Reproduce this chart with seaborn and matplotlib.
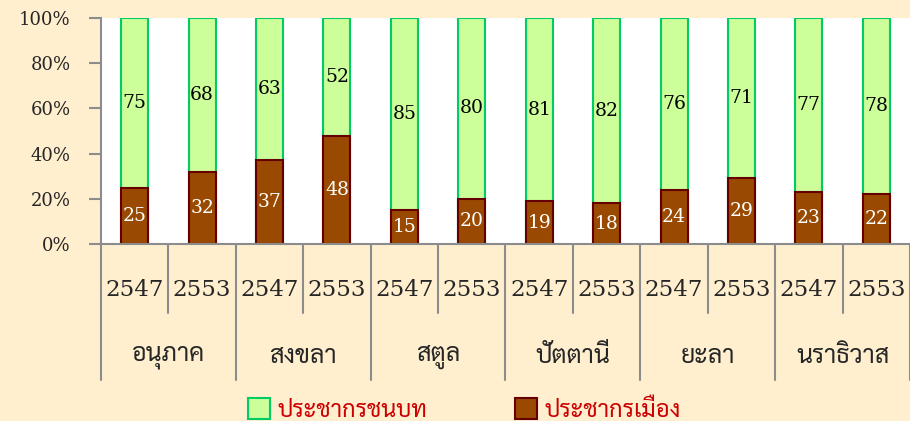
import matplotlib
matplotlib.use("Agg")
import matplotlib.pyplot as plt
from matplotlib import font_manager
from matplotlib.patches import Patch
import matplotlib.transforms as mtransforms
import seaborn as sns
import pandas as pd
import numpy as np

# ---------------- data ----------------
provinces = ["อนุภาค", "สงขลา", "สตูล", "ปัตตานี", "ยะลา", "นราธิวาส"]
years = ["2547", "2553"]
rural = [75, 68, 63, 52, 85, 80, 81, 82, 76, 71, 77, 78]   # ประชากรชนบท
urban = [25, 32, 37, 48, 15, 20, 19, 18, 24, 29, 23, 22]   # ประชากรเมือง
legend_labels = ["ประชากรชนบท", "ประชากรเมือง"]
yticks = [0, 20, 40, 60, 80, 100]

# ---------------- fonts ----------------
thai_family = "DejaVu Sans"
paths = font_manager.findSystemFonts()
for key in ["Sarabun-Regular", "NotoSansThai-Regular", "IBMPlexSansThaiLooped-Regular"]:
    cand = [p for p in paths if key in p]
    if cand:
        font_manager.fontManager.addfont(cand[0])
        thai_family = font_manager.FontProperties(fname=cand[0]).get_name()
        break
num_family = "DejaVu Serif"

sns.set_theme(style="white")
plt.rcParams["font.family"] = [num_family, thai_family]

BG = "#FFEFCF"
GREEN = "#CCFF99"
GREEN_E = "#00CC66"
BROWN = "#994A00"
BROWN_E = "#660000"
GRAY = "#8C8C8C"

labels = [f"{p}|{y}" for p in provinces for y in years]
df = pd.DataFrame({"cat": labels, "rural": rural, "urban": urban})
df["total"] = df["rural"] + df["urban"]

W, H = 910, 421
fig = plt.figure(figsize=(W / 100, H / 100), dpi=100, facecolor=BG)
ax = fig.add_axes([101 / W, 1 - 244 / H, 1 - 101 / W, (244 - 18) / H])
ax.set_facecolor("white")

sns.barplot(data=df, x="cat", y="total", color=GREEN, edgecolor=GREEN_E,
            linewidth=1.5, width=0.4, saturation=1, ax=ax)
sns.barplot(data=df, x="cat", y="urban", color=BROWN, edgecolor=BROWN_E,
            linewidth=1.5, width=0.4, saturation=1, ax=ax)

ax.set_xlim(-0.5, len(labels) - 0.5)
ax.set_ylim(0, 100)
ax.set_yticks(yticks)
ax.set_yticklabels([f"{v}%" for v in yticks], fontsize=13, family=num_family)
ax.tick_params(axis="y", direction="out", length=9, width=1.5, color=GRAY,
               pad=13, left=True)
ax.set_xticks([])
ax.set_xlabel("")
ax.set_ylabel("")
for s in ["top", "right"]:
    ax.spines[s].set_visible(False)
for s in ["left", "bottom"]:
    ax.spines[s].set_color(GRAY)
    ax.spines[s].set_linewidth(1.5)

# value labels
for i, (r, u) in enumerate(zip(rural, urban)):
    ax.text(i, u + r / 2, str(r), ha="center", va="center", fontsize=13.5,
            color="black", family=num_family)
    ax.text(i, u / 2, str(u), ha="center", va="center", fontsize=13.5,
            color="white", family=num_family)

# multi-level category axis
trans = mtransforms.blended_transform_factory(ax.transData, ax.transAxes)
ah = 226.0
def yfrac(py):
    return (244 - py) / ah

n = len(labels)
for k in range(n + 1):
    x = k - 0.5
    long = (k % 2 == 0)
    ax.plot([x, x], [0, yfrac(380 if long else 313)], color=GRAY, lw=1.5,
            transform=trans, clip_on=False)
for i, lab in enumerate(labels):
    ax.text(i, yfrac(290), lab.split("|")[1], ha="center", va="center",
            fontsize=16.5, transform=trans, family=num_family)
for j, p in enumerate(provinces):
    ax.text(2 * j + 0.5, yfrac(356), p, ha="center", va="center",
            fontsize=18, transform=trans, family=[thai_family, num_family])

handles = [Patch(facecolor=GREEN, edgecolor=GREEN_E, linewidth=1.5),
           Patch(facecolor=BROWN, edgecolor=BROWN_E, linewidth=1.5)]
leg = fig.legend(handles, legend_labels, loc="center left",
                 bbox_to_anchor=(248 / W, 1 - 410 / H), ncol=2, frameon=False,
                 prop={"family": thai_family, "size": 17},
                 handlelength=0.95, handleheight=0.95, handletextpad=0.3,
                 columnspacing=3.7, borderpad=0, borderaxespad=0)
for t in leg.get_texts():
    t.set_color("#CC0000")

fig.savefig("out.png", dpi=100, facecolor=BG)
